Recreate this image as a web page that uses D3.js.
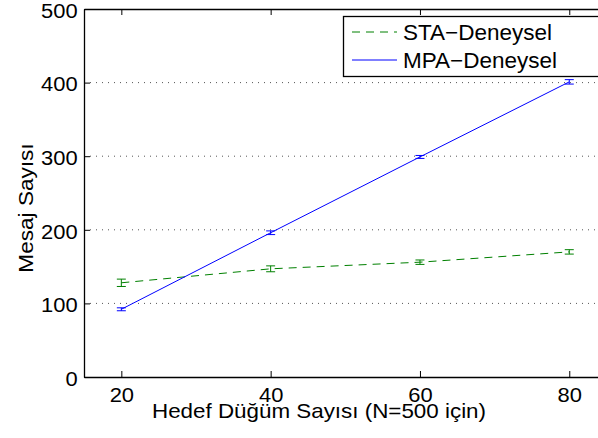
<!DOCTYPE html>
<html>
<head>
<meta charset="utf-8">
<script src="https://cdn.jsdelivr.net/npm/d3@7"></script>
<style>
  body { margin: 0; background: #fff; }
  svg { display: block; font-family: "Liberation Sans", Arial, Helvetica, sans-serif; }
</style>
</head>
<body>
<svg width="598" height="438"></svg>
<script>
// değerler
const hedefSayisi = [20, 40, 60, 80];
const staDeger = [128, 147, 156, 170];
const staHata = [5, 4, 3, 3];
const mpaDeger = [92, 196, 299, 401];
const mpaHata = [2, 2.5, 2, 3];
const xTicks = [20, 40, 60, 80];
const yTicks = [0, 100, 200, 300, 400, 500];
const seriler = [
    {ad: "STA\u2212Deneysel", renk: "#008000", kesik: "8,6", y: staDeger, hata: staHata},
    {ad: "MPA\u2212Deneysel", renk: "#0000ff", kesik: null, y: mpaDeger, hata: mpaHata}
];

const svg = d3.select("svg");

const alan = {left: 84, right: 606.6, top: 9, bottom: 377};

const scX = d3.scaleLinear().domain([15, 85]).range([alan.left, alan.right]);
const scY = d3.scaleLinear().domain([0, 500]).range([alan.bottom, alan.top]);

// yatay noktalı ızgara
svg.append("g")
    .selectAll("line")
    .data(yTicks.filter(d => d > 0 && d < 500))
    .join("line")
    .attr("x1", alan.left).attr("x2", alan.right)
    .attr("y1", d => scY(d)).attr("y2", d => scY(d))
    .attr("stroke", "#555")
    .attr("stroke-width", 1)
    .attr("stroke-dasharray", "1,5");

// eksenler (tikler içe doğru)
const eksenX = d3.axisBottom(scX).tickValues(xTicks).tickSizeInner(-6).tickSizeOuter(0).tickPadding(10);
const eksenXUst = d3.axisTop(scX).tickValues(xTicks).tickSizeInner(-6).tickSizeOuter(0).tickFormat("");
const eksenY = d3.axisLeft(scY).tickValues(yTicks).tickSizeInner(-6).tickSizeOuter(0).tickPadding(6);

function stil(g) {
    g.attr("font-family", null).attr("font-size", null);
    g.select(".domain").attr("stroke", "#000").attr("stroke-width", 1.3);
    g.selectAll(".tick line").attr("stroke", "#000");
    g.selectAll(".tick text")
        .attr("fill", "#000")
        .attr("transform", "scale(1.07,1)")
        .style("font-size", "20.5px");
}

svg.append("g").attr("transform", `translate(0,${alan.bottom})`).call(eksenX).call(stil);
svg.append("g").attr("transform", `translate(0,${alan.top})`).call(eksenXUst).call(stil);
svg.append("g").attr("transform", `translate(${alan.left},0)`).call(eksenY).call(stil)
    .selectAll(".tick text").attr("dy", "0.4em");

// eksen başlıkları
svg.append("text")
    .attr("transform", "translate(319,418) scale(1.12,1)")
    .attr("text-anchor", "middle")
    .style("font-size", "20px")
    .text("Hedef Düğüm Sayısı (N=500 için)");

svg.append("text")
    .attr("transform", "translate(33,208) rotate(-90) scale(1.13,1)")
    .attr("text-anchor", "middle")
    .style("font-size", "20px")
    .text("Mesaj Sayısı");

// seriler
const cizgi = d3.line().x((d, i) => scX(hedefSayisi[i])).y(d => scY(d));

seriler.forEach(s => {
    svg.append("path")
        .datum(s.y)
        .attr("d", cizgi)
        .attr("fill", "none")
        .attr("stroke", s.renk)
        .attr("stroke-width", 1)
        .attr("stroke-dasharray", s.kesik);

    const w = 4.5;
    const hb = svg.append("g").attr("stroke", s.renk).attr("stroke-width", 1);
    hedefSayisi.forEach((x, i) => {
        const cx = scX(x);
        const y1 = scY(s.y[i] - s.hata[i]);
        const y2 = scY(s.y[i] + s.hata[i]);
        hb.append("line").attr("x1", cx).attr("x2", cx).attr("y1", y1).attr("y2", y2);
        hb.append("line").attr("x1", cx - w).attr("x2", cx + w).attr("y1", y1).attr("y2", y1);
        hb.append("line").attr("x1", cx - w).attr("x2", cx + w).attr("y1", y2).attr("y2", y2);
    });
});

// lejant
const lej = svg.append("g");
lej.append("rect")
    .attr("x", 343.5).attr("y", 16.5)
    .attr("width", 280).attr("height", 60)
    .attr("fill", "#fff")
    .attr("stroke", "#000")
    .attr("stroke-width", 1.3);

seriler.forEach((s, i) => {
    const y = 32 + i * 28;
    lej.append("line")
        .attr("x1", 352).attr("x2", 397)
        .attr("y1", y).attr("y2", y)
        .attr("stroke", s.renk)
        .attr("stroke-width", 1)
        .attr("stroke-dasharray", s.kesik);
    lej.append("text")
        .attr("x", 403).attr("y", y + 8)
        .style("font-size", "22.5px")
        .text(s.ad);
});
</script>
</body>
</html>
